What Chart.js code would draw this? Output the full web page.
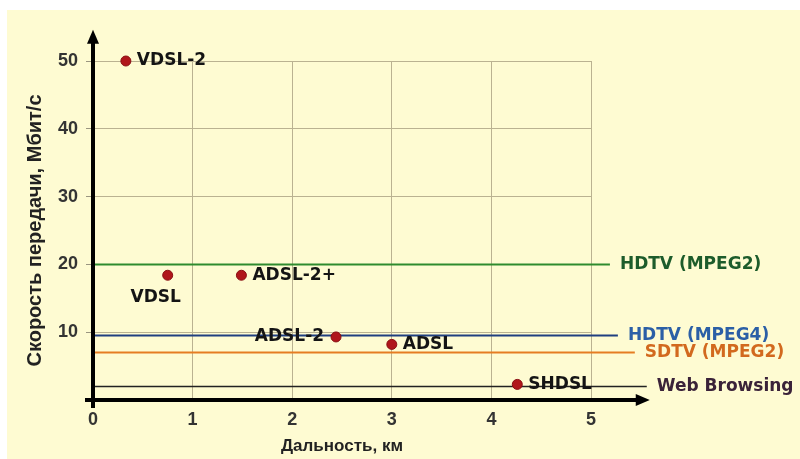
<!DOCTYPE html>
<html>
<head>
<meta charset="utf-8">
<script src="https://cdn.jsdelivr.net/npm/chart.js@4/dist/chart.umd.min.js"></script>
<style>
  html, body { margin: 0; padding: 0; background: #ffffff; }
  #wrap { width: 800px; height: 459px; }
</style>
</head>
<body>
<div id="wrap"><canvas id="c" width="800" height="459"></canvas></div>
<script>
// ---- data ----
const techNames    = ['VDSL-2', 'VDSL', 'ADSL-2+', 'ADSL-2', 'ADSL', 'SHDSL'];
const techDistance = [0.33, 0.75, 1.49, 2.44, 3.0, 4.26];   // km
const techSpeed    = [50, 18.4, 18.4, 9.3, 8.2, 2.3];       // Mbit/s
const techLabelSide = ['right', 'below', 'right', 'left', 'right', 'right'];

const serviceNames   = ['HDTV (MPEG2)', 'HDTV (MPEG4)', 'SDTV (MPEG2)', 'Web Browsing'];
const serviceSpeed   = [20, 9.5, 7, 2];
const serviceLineEnd = [5.19, 5.27, 5.44, 5.56];            // km, where each line stops
const serviceColors  = ['#2e8b2e', '#1f3f80', '#e57d22', '#222222'];
const serviceTextColors = ['#1d5c2b', '#2b5fa6', '#d2691e', '#3a2239'];
const serviceWidths  = [2, 2, 2, 1.5];

const xTicks = [0, 1, 2, 3, 4, 5];
const yTicks = [10, 20, 30, 40, 50];
const xAxisEnd = 5.59, yAxisEnd = 54.6;

const xTitle = 'Дальность, км';
const yTitle = 'Скорость передачи, Мбит/с';

// ---- datasets ----
const datasets = [];
serviceNames.forEach((name, i) => {
  datasets.push({
    type: 'line',
    label: name,
    data: [{x: 0, y: serviceSpeed[i]}, {x: serviceLineEnd[i], y: serviceSpeed[i]}],
    borderColor: serviceColors[i],
    borderWidth: serviceWidths[i],
    pointRadius: 0,
    clip: false,
    order: 2
  });
});
datasets.push({
  type: 'scatter',
  label: 'tech',
  data: techDistance.map((d, i) => ({x: d, y: techSpeed[i]})),
  backgroundColor: '#b0161b',
  borderColor: '#8a1014',
  borderWidth: 1,
  pointRadius: 5,
  clip: false,
  order: 1
});

const bgPlugin = {
  id: 'bg',
  beforeDraw(chart) {
    const ctx = chart.ctx;
    ctx.save();
    ctx.fillStyle = '#ffffff';
    ctx.fillRect(0, 0, chart.width, chart.height);
    ctx.fillStyle = '#fefbd2';
    ctx.fillRect(7, 10, chart.width - 7, chart.height - 10);
    ctx.restore();
  }
};

const decoPlugin = {
  id: 'deco',
  afterDatasetsDraw(chart) {
    const ctx = chart.ctx;
    const xs = chart.scales.x, ys = chart.scales.y;
    const x0 = xs.getPixelForValue(0), y0 = ys.getPixelForValue(0);
    const xEnd = xs.getPixelForValue(xAxisEnd), yEnd = ys.getPixelForValue(yAxisEnd);
    ctx.save();
    // axes
    ctx.strokeStyle = '#000';
    ctx.fillStyle = '#000';
    ctx.lineWidth = 4;
    ctx.beginPath();
    ctx.moveTo(x0, y0 + 8);
    ctx.lineTo(x0, yEnd + 12);
    ctx.moveTo(x0 - 8, y0);
    ctx.lineTo(xEnd - 12, y0);
    ctx.stroke();
    ctx.beginPath();
    ctx.moveTo(x0, yEnd);
    ctx.lineTo(x0 - 6, yEnd + 14);
    ctx.lineTo(x0 + 6, yEnd + 14);
    ctx.closePath();
    ctx.fill();
    ctx.beginPath();
    ctx.moveTo(xEnd, y0);
    ctx.lineTo(xEnd - 14, y0 - 6);
    ctx.lineTo(xEnd - 14, y0 + 6);
    ctx.closePath();
    ctx.fill();

    // service labels
    ctx.font = 'bold 17px "DejaVu Sans"';
    ctx.textBaseline = 'middle';
    ctx.textAlign = 'left';
    serviceNames.forEach((name, i) => {
      ctx.fillStyle = serviceTextColors[i];
      ctx.fillText(name, xs.getPixelForValue(serviceLineEnd[i]) + 10, ys.getPixelForValue(serviceSpeed[i]));
    });

    // technology labels
    ctx.fillStyle = '#141414';
    techNames.forEach((name, i) => {
      const px = xs.getPixelForValue(techDistance[i]);
      const py = ys.getPixelForValue(techSpeed[i]);
      const side = techLabelSide[i];
      if (side === 'right') {
        ctx.textAlign = 'left';
        ctx.fillText(name, px + 11, py);
      } else if (side === 'left') {
        ctx.textAlign = 'right';
        ctx.fillText(name, px - 12, py);
      } else {
        ctx.textAlign = 'center';
        ctx.fillText(name, px - 12, py + 22);
      }
    });
    ctx.restore();
  }
};

new Chart(document.getElementById('c'), {
  data: { datasets },
  options: {
    responsive: false,
    animation: false,
    devicePixelRatio: 1,
    layout: { padding: { left: 0, top: 61, right: 209, bottom: 0 } },
    plugins: { legend: { display: false }, tooltip: { enabled: false } },
    scales: {
      x: {
        type: 'linear',
        min: 0, max: 5,
        afterFit(scale) { scale.height = 59; },
        afterBuildTicks(scale) { scale.ticks = xTicks.map(v => ({value: v})); },
        grid: { color: '#bab291', lineWidth: 1, tickLength: 6, tickColor: 'rgba(0,0,0,0)' },
        border: { display: false },
        ticks: {
          color: '#333',
          font: { family: 'Liberation Sans', weight: 'bold', size: 18 },
          padding: 3,
          maxRotation: 0
        },
        title: {
          display: true,
          text: xTitle,
          color: '#222',
          font: { family: 'Liberation Sans', weight: 'bold', size: 17 },
          padding: { top: 0, bottom: 2 }
        }
      },
      y: {
        type: 'linear',
        min: 0, max: 50,
        afterFit(scale) { scale.width = 93; },
        afterBuildTicks(scale) { scale.ticks = [0].concat(yTicks).map(v => ({value: v})); },
        grid: { color: '#bab291', lineWidth: 1, tickLength: 7, tickColor: '#9a9580' },
        border: { display: false },
        ticks: {
          color: '#333',
          font: { family: 'Liberation Sans', weight: 'bold', size: 18 },
          padding: 8,
          callback: (v) => (yTicks.includes(v) ? String(v) : '')
        },
        title: {
          display: true,
          text: yTitle,
          color: '#222',
          font: { family: 'Liberation Sans', weight: 'bold', size: 20 },
          padding: { top: 23, bottom: 0 }
        }
      }
    }
  },
  plugins: [bgPlugin, decoPlugin]
});
</script>
</body>
</html>
